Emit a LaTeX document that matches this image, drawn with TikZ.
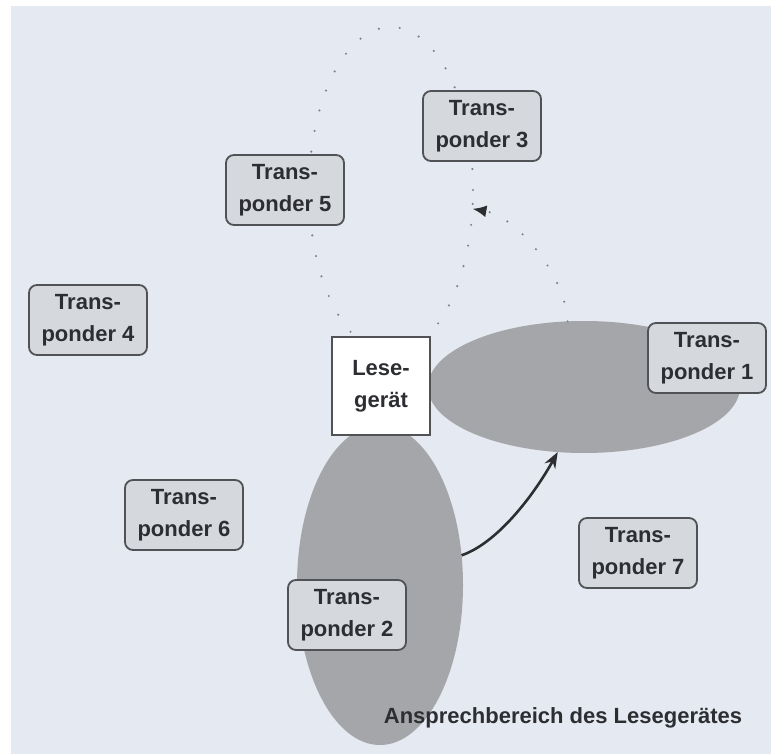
\documentclass[tikz,border=0pt]{standalone}
\usepackage{fontspec}
\setmainfont{Liberation Sans}
\usetikzlibrary{shapes.geometric,arrows.meta}

\definecolor{paper}{RGB}{229,234,242}
\definecolor{lobefill}{RGB}{165,166,170}
\definecolor{tagfill}{RGB}{213,216,221}
\definecolor{edge}{RGB}{80,82,86}
\definecolor{ink}{RGB}{45,46,50}
\definecolor{dotgrey}{RGB}{128,131,138}

\begin{document}
\begin{tikzpicture}[x=1pt,y=-1pt,
  label font/.style={font=\bfseries\fontsize{22}{32}\selectfont, text=ink},
  tag/.style={draw=edge, line width=1.8pt, fill=tagfill, rounded corners=8pt,
    minimum width=118pt, minimum height=70pt, inner sep=0pt, align=center, label font},
  reader/.style={draw=edge, line width=1.8pt, fill=white,
    minimum width=98pt, minimum height=98pt, inner sep=0pt, align=center, label font},
  lobe/.style={ellipse, fill=lobefill, inner sep=0pt, outer sep=0pt},
  ghost/.style={ellipse, draw=dotgrey, line width=2.4pt, dash pattern=on 0pt off 21pt,
    line cap=round, inner sep=0pt, outer sep=0pt},
  turn/.style={draw=ink, line width=2.6pt, -{Stealth[length=16pt,width=12pt]}},
  dotturn/.style={draw=dotgrey, line width=2.4pt, dash pattern=on 0pt off 20pt, line cap=round,
    -{Latex[length=14pt,width=12pt,color=ink]}}
]
% page and paper
\fill[white] (0,0) rectangle (771,754);
\fill[paper] (11,6) rectangle (771,754);
\useasboundingbox (0,0) rectangle (771,754);

% turned reading lobe (outline only) and the two shaded lobes
\node[ghost, minimum width=164pt, minimum height=326pt] (sweep) at (391,190) {};
\node[lobe, minimum width=312pt, minimum height=132pt] (lobeA) at (584,387) {};
\node[lobe, minimum width=166pt, minimum height=320pt] (lobeB) at (380,585) {};

% rotation of the lobe
\draw[turn] (lobeB.20) .. controls +(35,-12) and +(-25,45) .. (lobeA.-112);
\draw[dotturn] (lobeA.104) .. controls +(-2,-45) and +(45,8) .. (sweep.-13);

% reader and transponders
\node[reader] (reader) at (381,386) {Lese-\\gerät};
\node[tag] (t1) at (707,358) {Trans-\\ponder 1};
\node[tag] (t2) at (347,615) {Trans-\\ponder 2};
\node[tag] (t3) at (482,126) {Trans-\\ponder 3};
\node[tag] (t4) at (88,320) {Trans-\\ponder 4};
\node[tag] (t5) at (285,190) {Trans-\\ponder 5};
\node[tag] (t6) at (184,515) {Trans-\\ponder 6};
\node[tag] (t7) at (638,553) {Trans-\\ponder 7};

\node[label font, anchor=base, inner sep=0pt] (caption) at (563,723) {Ansprechbereich des Lesegerätes};
\end{tikzpicture}
\end{document}
